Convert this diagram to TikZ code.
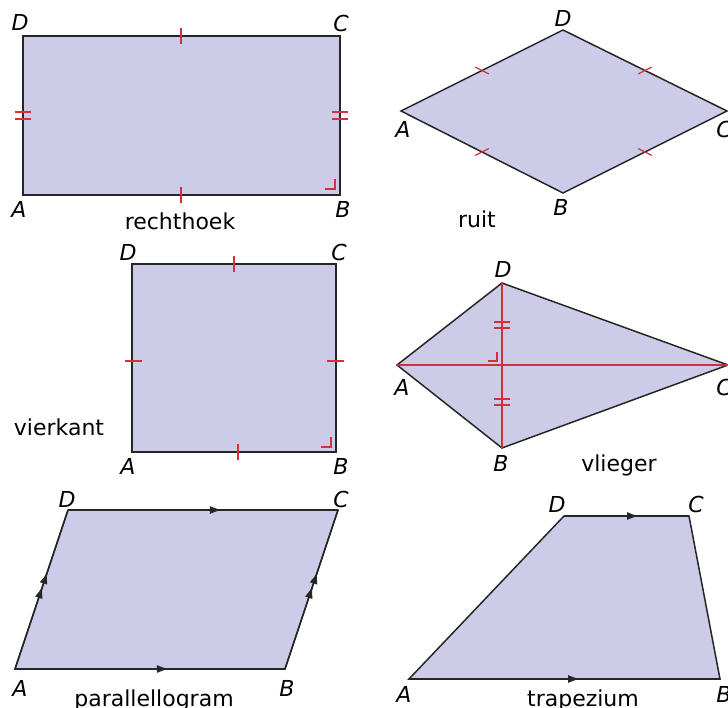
\documentclass[tikz,border=0pt]{standalone}
\usepackage{fontspec}
\setmainfont{DejaVu Sans}
\usetikzlibrary{calc,decorations.markings,arrows.meta}
\definecolor{vlak}{RGB}{204,204,232}
\definecolor{merk}{RGB}{214,46,58}
\tikzset{
  vorm/.style={fill=vlak, draw=black!85, line width=1.5pt},
  streep/.style={draw=merk, line width=1.5pt},
  diagonaal/.style={draw=merk, line width=2pt},
  hoekpunt/.style={font=\fontsize{22}{26}\selectfont\itshape, inner sep=0pt},
  naam/.style={font=\fontsize{22}{26}\selectfont, inner sep=0pt, anchor=base},
  pijl/.style={draw=black!85, line width=1.5pt, postaction={decorate},
    decoration={markings, mark=at position #1 with {\arrow{Latex[length=12pt,width=8pt]}}}},
  dubbelpijl/.style={draw=black!85, line width=1.5pt, postaction={decorate},
    decoration={markings,
      mark=at position 0.52 with {\arrow{Latex[length=12pt,width=8pt]}},
      mark=at position 0.61 with {\arrow{Latex[length=12pt,width=8pt]}}}},
}
\begin{document}
\begin{tikzpicture}[x=1pt, y=-1pt, line join=miter]
  \useasboundingbox (0,0) rectangle (728,708);
  % de rechthoek
  \coordinate (A1) at (23,195); \coordinate (B1) at (340,195);
  \coordinate (C1) at (340,36); \coordinate (D1) at (23,36);
  \filldraw[vorm] (A1) -- (B1) -- (C1) -- (D1) -- cycle;
  \draw[streep] (181,28) -- (181,44);
  \draw[streep] (181,187) -- (181,203);
  \draw[streep] (15,112) -- (31,112); \draw[streep] (15,119) -- (31,119);
  \draw[streep] (332,112) -- (348,112); \draw[streep] (332,119) -- (348,119);
  \draw[streep, line width=1.3pt] ($(B1)+(-15,-6)$) -- ++(10,0) -- ++(0,-10);
  \node[hoekpunt] (lA1) at (19,209) {A}; \node[hoekpunt] (lB1) at (343,209) {B};
  \node[hoekpunt] (lC1) at (341,23) {C}; \node[hoekpunt] (lD1) at (20,22) {D};
  \node[naam] (rechthoek) at (180,230) {rechthoek};
  % de ruit
  \coordinate (A2) at (401,111); \coordinate (B2) at (563,193);
  \coordinate (C2) at (727,111); \coordinate (D2) at (563,30);
  \filldraw[vorm] (A2) -- (B2) -- (C2) -- (D2) -- cycle;
  \draw[streep, line width=1.2pt] ($(A2)!0.5!(D2)$) +(-6.7,-3.4) -- +(6.7,3.4);
  \draw[streep, line width=1.2pt] ($(D2)!0.5!(C2)$) +(-6.7,3.4) -- +(6.7,-3.4);
  \draw[streep, line width=1.2pt] ($(A2)!0.5!(B2)$) +(-6.7,3.4) -- +(6.7,-3.4);
  \draw[streep, line width=1.2pt] ($(B2)!0.5!(C2)$) +(-6.7,-3.4) -- +(6.7,3.4);
  \node[hoekpunt] (lA2) at (403,129) {A}; \node[hoekpunt] (lB2) at (561,207) {B};
  \node[hoekpunt] (lC2) at (724,129) {C}; \node[hoekpunt] (lD2) at (563,18) {D};
  \node[naam] (ruit) at (477,228) {ruit};
  % het vierkant
  \coordinate (A3) at (132,452); \coordinate (B3) at (336,452);
  \coordinate (C3) at (336,264); \coordinate (D3) at (132,264);
  \filldraw[vorm] (A3) -- (B3) -- (C3) -- (D3) -- cycle;
  \draw[streep] (234,256) -- (234,272); \draw[streep] (238,444) -- (238,460);
  \draw[streep] (125,361) -- (142,361); \draw[streep] (327,361) -- (344,361);
  \draw[streep, line width=1.3pt] ($(B3)+(-15,-5)$) -- ++(10,0) -- ++(0,-10);
  \node[hoekpunt] (lA3) at (128,466) {A}; \node[hoekpunt] (lB3) at (341,466) {B};
  \node[hoekpunt] (lC3) at (339,252) {C}; \node[hoekpunt] (lD3) at (128,252) {D};
  \node[naam] (vierkant) at (59,435) {vierkant};
  % de vlieger, met zijn diagonalen
  \coordinate (A4) at (397,365); \coordinate (B4) at (502,448);
  \coordinate (C4) at (728,365); \coordinate (D4) at (502,283);
  \filldraw[vorm] (A4) -- (B4) -- (C4) -- (D4) -- cycle;
  \draw[diagonaal] (A4) -- (C4);
  \draw[diagonaal] (D4) -- (B4);
  \draw[streep] (494,322) -- (510,322); \draw[streep] (494,328) -- (510,328);
  \draw[streep] (494,399) -- (510,399); \draw[streep] (494,405) -- (510,405);
  \draw[streep, line width=1.3pt] (488,361) -- (497,361) -- (497,352);
  \node[hoekpunt] (lA4) at (402,387) {A}; \node[hoekpunt] (lB4) at (501,463) {B};
  \node[hoekpunt] (lC4) at (724,387) {C}; \node[hoekpunt] (lD4) at (503,269) {D};
  \node[naam] (vlieger) at (619,471) {vlieger};
  % het parallellogram
  \coordinate (A5) at (15,669); \coordinate (B5) at (285,669);
  \coordinate (C5) at (338,510); \coordinate (D5) at (68,510);
  \filldraw[vorm] (A5) -- (B5) -- (C5) -- (D5) -- cycle;
  \draw[pijl=0.57] (A5) -- (B5);
  \draw[pijl=0.57] (D5) -- (C5);
  \draw[dubbelpijl] (A5) -- (D5);
  \draw[dubbelpijl] (B5) -- (C5);
  \node[hoekpunt] (lA5) at (20,688) {A}; \node[hoekpunt] (lB5) at (287,688) {B};
  \node[hoekpunt] (lC5) at (341,499) {C}; \node[hoekpunt] (lD5) at (67,499) {D};
  \node[naam] (parallellogram) at (154,706) {parallellogram};
  % het trapezium
  \coordinate (A6) at (409,679); \coordinate (B6) at (720,679);
  \coordinate (C6) at (689,516); \coordinate (D6) at (564,516);
  \filldraw[vorm] (A6) -- (B6) -- (C6) -- (D6) -- cycle;
  \draw[pijl=0.55] (A6) -- (B6);
  \draw[pijl=0.6] (D6) -- (C6);
  \node[hoekpunt] (lA6) at (404,694) {A}; \node[hoekpunt] (lB6) at (724,694) {B};
  \node[hoekpunt] (lC6) at (696,504) {C}; \node[hoekpunt] (lD6) at (557,504) {D};
  \node[naam] (trapezium) at (583,706) {trapezium};
\end{tikzpicture}
\end{document}
